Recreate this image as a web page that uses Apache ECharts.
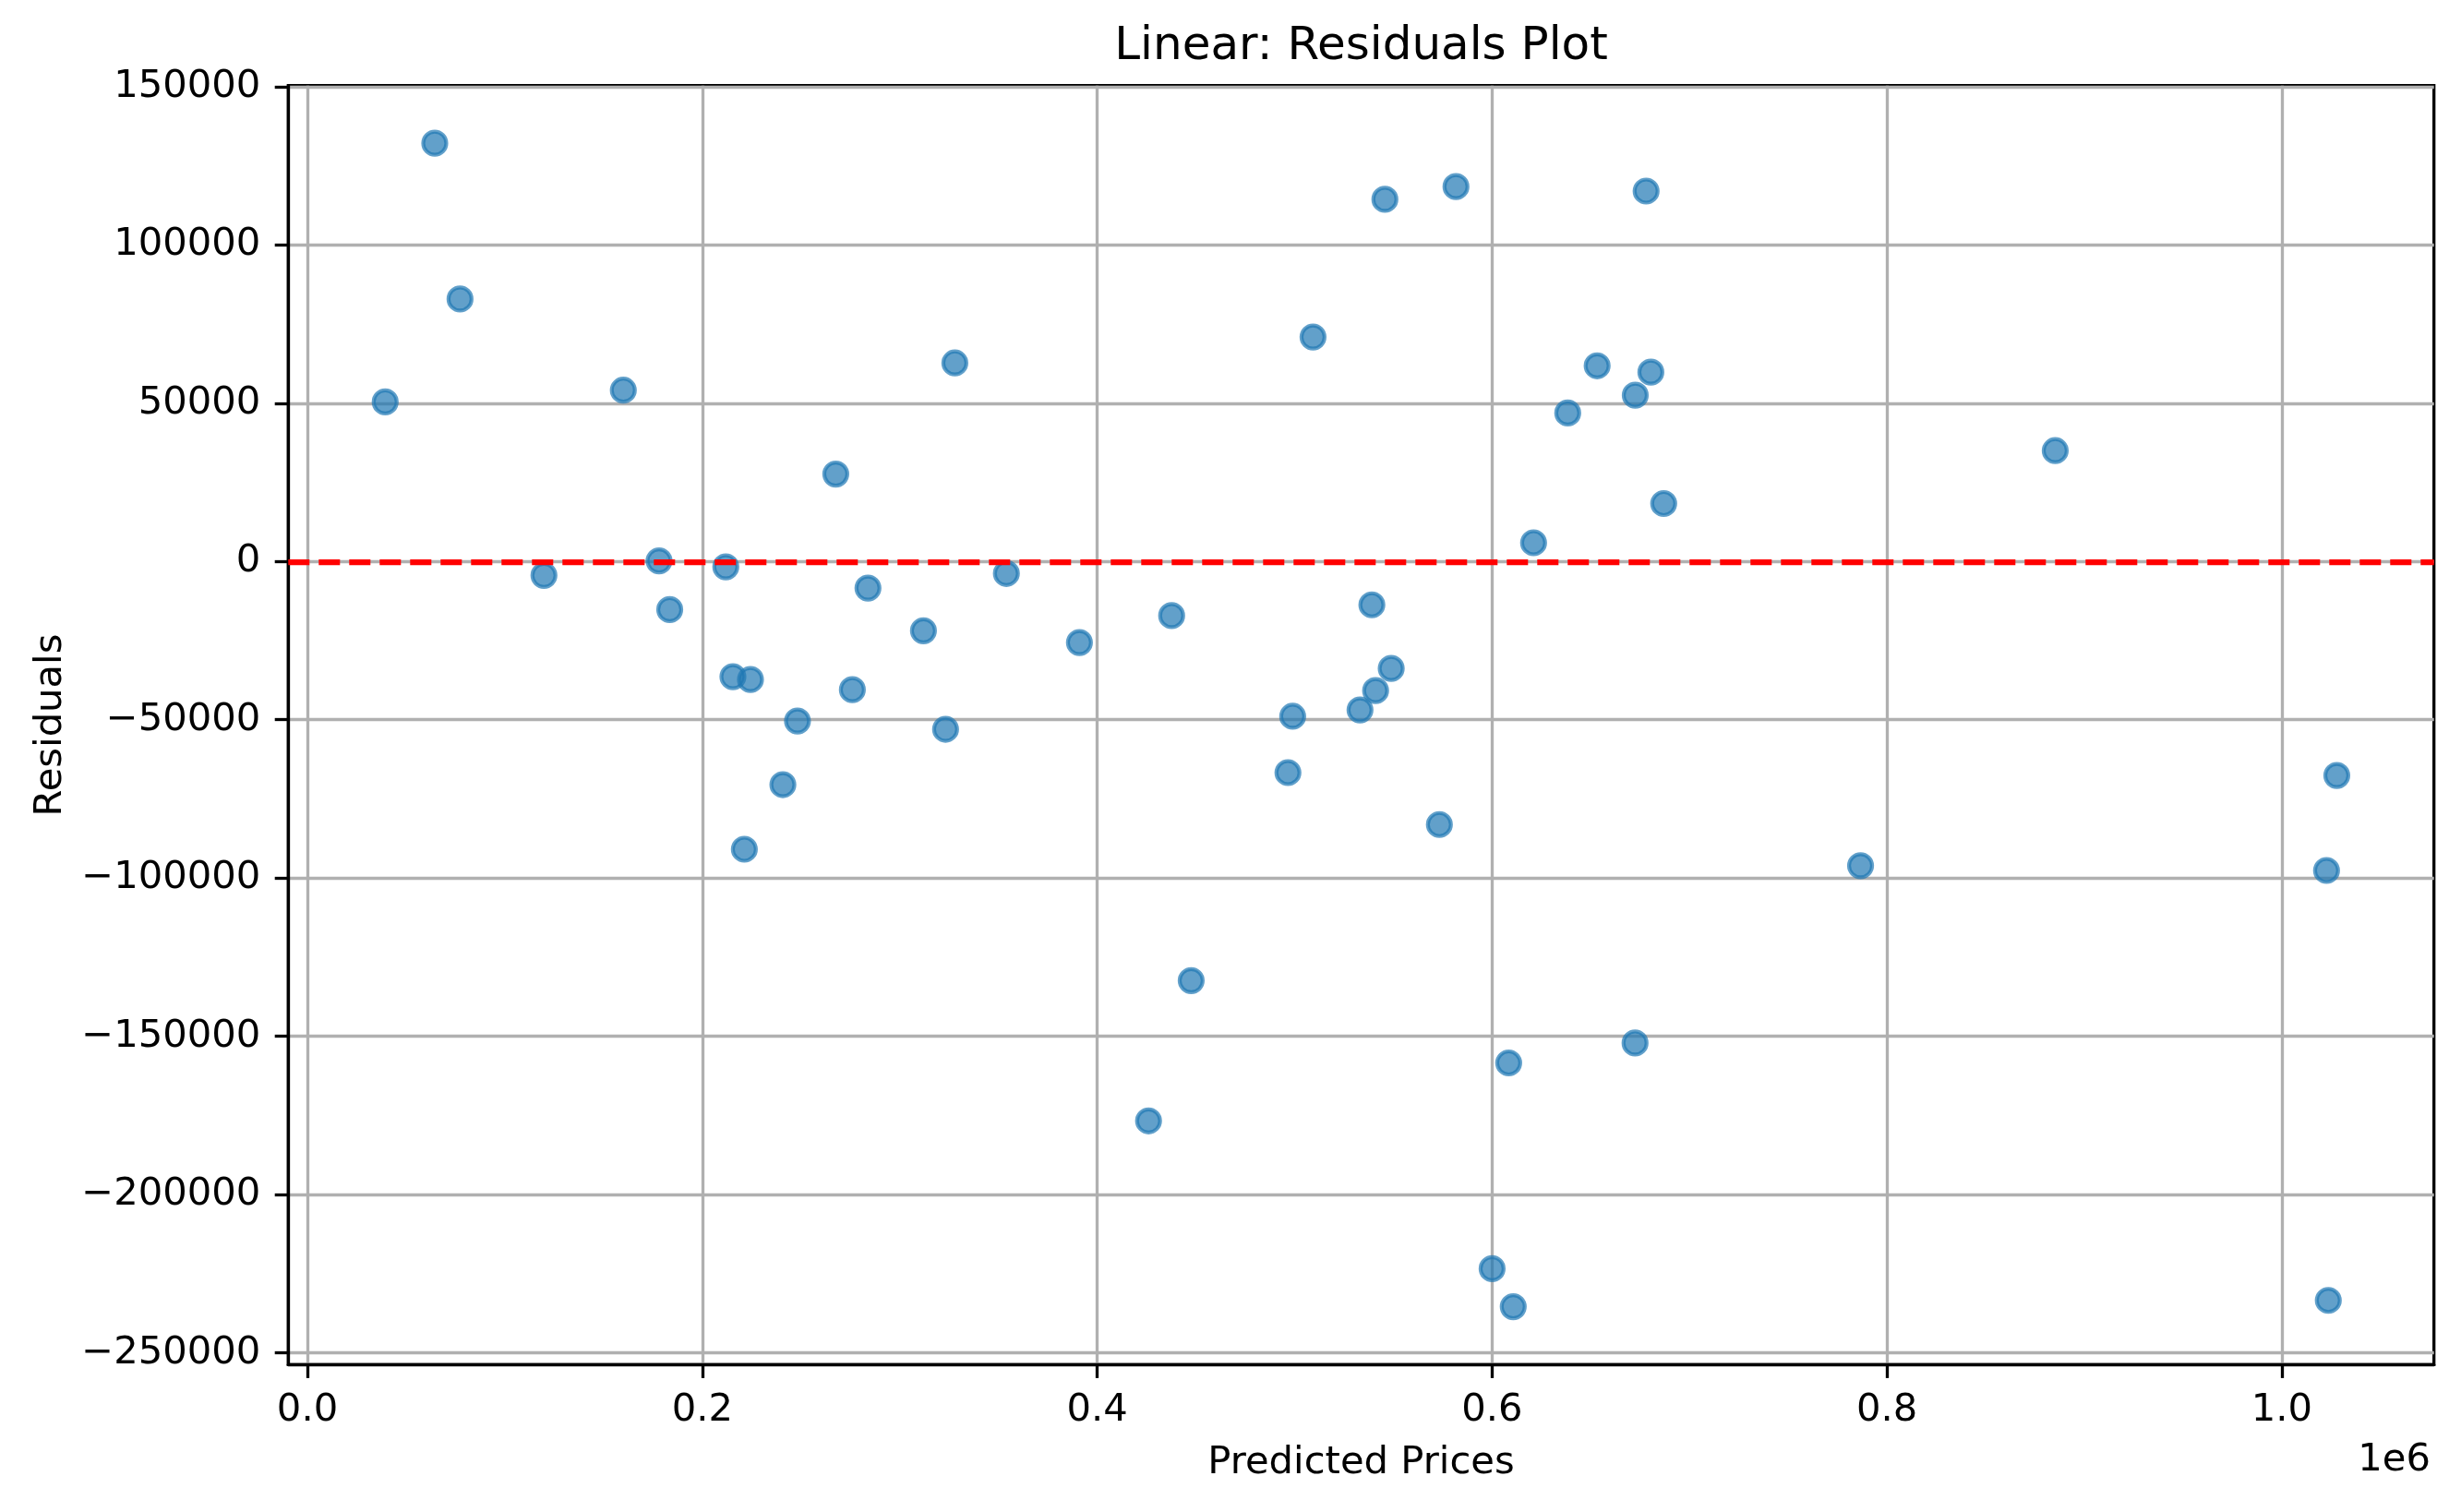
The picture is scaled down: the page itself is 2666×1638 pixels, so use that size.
<!DOCTYPE html>
<html lang="en">
	<head>
		<meta charset="UTF-8">
		<title>Linear: Residuals Plot</title>
		<style type="text/css">
			html,
			body {
				width: 100%;
				height: 100%;
				margin: 0;
				padding: 0;
				background: #fff;
			}

			#main {
				width: 2666px;
				height: 1638px;
			}
		</style>
	</head>
	<body>
		<div id="main"></div>

		<script src="https://cdn.jsdelivr.net/npm/echarts@6/dist/echarts.min.js" type="text/javascript" charset="utf-8"></script>
		<script type="text/javascript">
			// predicted prices (x) and residuals (y)
			const predicted = [
				39400, 64500, 77300, 119800, 160000, 178100, 183500, 211900, 215500, 224400,
				221300, 240800, 248200, 267600, 276000, 283900, 312000, 323200, 327900, 354000,
				391000, 426000, 437700, 447600, 496600, 499000, 509300, 533100, 539100, 541000,
				545700, 548900, 573300, 581700, 600000, 608400, 610700, 621000, 638300, 653200,
				672500, 672400, 678000, 680400, 686900, 786600, 885200, 1022600, 1023500, 1027800
			];
			const residuals = [
				50400, 132100, 82900, -4400, 54100, 200, -15200, -1700, -36400, -37300,
				-90900, -70500, -50400, 27600, -40500, -8400, -21900, -53000, 62700, -3800,
				-25600, -176700, -17100, -132400, -66700, -48900, 70900, -46900, -13700, -40800,
				114400, -33800, -83100, 118400, -223400, -158400, -235400, 5900, 46900, 61800,
				52500, -152100, 117000, 59800, 18300, -96100, 35000, -97600, -233400, -67600
			];

			const xTicks = [0, 200000, 400000, 600000, 800000, 1000000];
			const yTicks = [-250000, -200000, -150000, -100000, -50000, 0, 50000, 100000, 150000];

			const points = predicted.map((x, i) => [x, residuals[i]]);

			const font = 'DejaVu Sans';
			const blue = 'rgba(31, 119, 180, 0.7)';

			var myChart = echarts.init(document.getElementById('main'));
			var option = {
				animation: false,
				backgroundColor: '#fff',
				textStyle: {
					fontFamily: font
				},
				title: [{
						text: 'Linear: Residuals Plot',
						left: 1474.5,
						top: 26,
						textAlign: 'center',
						padding: 0,
						textStyle: {
							fontFamily: font,
							fontSize: 50,
							fontWeight: 'normal',
							color: '#000'
						}
					},
					{
						text: '1e6',
						right: 33,
						top: 1561,
						padding: 0,
						textStyle: {
							fontFamily: font,
							fontSize: 41.7,
							fontWeight: 'normal',
							color: '#000'
						}
					}
				],
				grid: {
					left: 312.3,
					top: 92.7,
					right: 29.3,
					bottom: 159.7,
					show: true,
					borderColor: '#000',
					borderWidth: 3.3
				},
				xAxis: {
					type: 'value',
					min: -9680,
					max: 1077000,
					name: 'Predicted Prices',
					nameLocation: 'middle',
					nameGap: 86,
					nameTextStyle: {
						fontFamily: font,
						fontSize: 41.7,
						color: '#000'
					},
					axisLine: {
						onZero: false,
						lineStyle: {
							color: '#000',
							width: 3.3
						}
					},
					axisTick: {
						length: 14.6,
						customValues: xTicks,
						lineStyle: {
							color: '#000',
							width: 3.3
						}
					},
					axisLabel: {
						customValues: xTicks,
						margin: 29,
						fontFamily: font,
						fontSize: 41.7,
						color: '#000',
						formatter: v => (v / 1e6).toFixed(1)
					},
					splitLine: {
						show: true,
						lineStyle: {
							color: '#b0b0b0',
							width: 3.3
						}
					}
				},
				yAxis: {
					type: 'value',
					min: -253680,
					max: 150320,
					name: 'Residuals',
					nameLocation: 'middle',
					nameGap: 236,
					nameTextStyle: {
						fontFamily: font,
						fontSize: 41.7,
						color: '#000'
					},
					axisLine: {
						show: true,
						onZero: false,
						lineStyle: {
							color: '#000',
							width: 3.3
						}
					},
					axisTick: {
						show: true,
						length: 14.6,
						customValues: yTicks,
						lineStyle: {
							color: '#000',
							width: 3.3
						}
					},
					axisLabel: {
						customValues: yTicks,
						margin: 30,
						fontFamily: font,
						fontSize: 41.7,
						color: '#000',
						formatter: v => (v < 0 ? '\u2212' + Math.abs(v) : String(v))
					},
					splitLine: {
						show: true,
						lineStyle: {
							color: '#b0b0b0',
							width: 3.3
						}
					}
				},
				series: [{
					type: 'scatter',
					data: points,
					symbol: 'circle',
					symbolSize: 25,
					itemStyle: {
						color: blue,
						borderColor: blue,
						borderWidth: 4.2,
						opacity: 1
					},
					markLine: {
						silent: true,
						symbol: 'none',
						label: {
							show: false
						},
						lineStyle: {
							color: '#ff0000',
							width: 6.25,
							type: [23, 10]
						},
						data: [{
							yAxis: 0
						}]
					}
				}]
			};

			myChart.setOption(option);
		</script>
	</body>
</html>
